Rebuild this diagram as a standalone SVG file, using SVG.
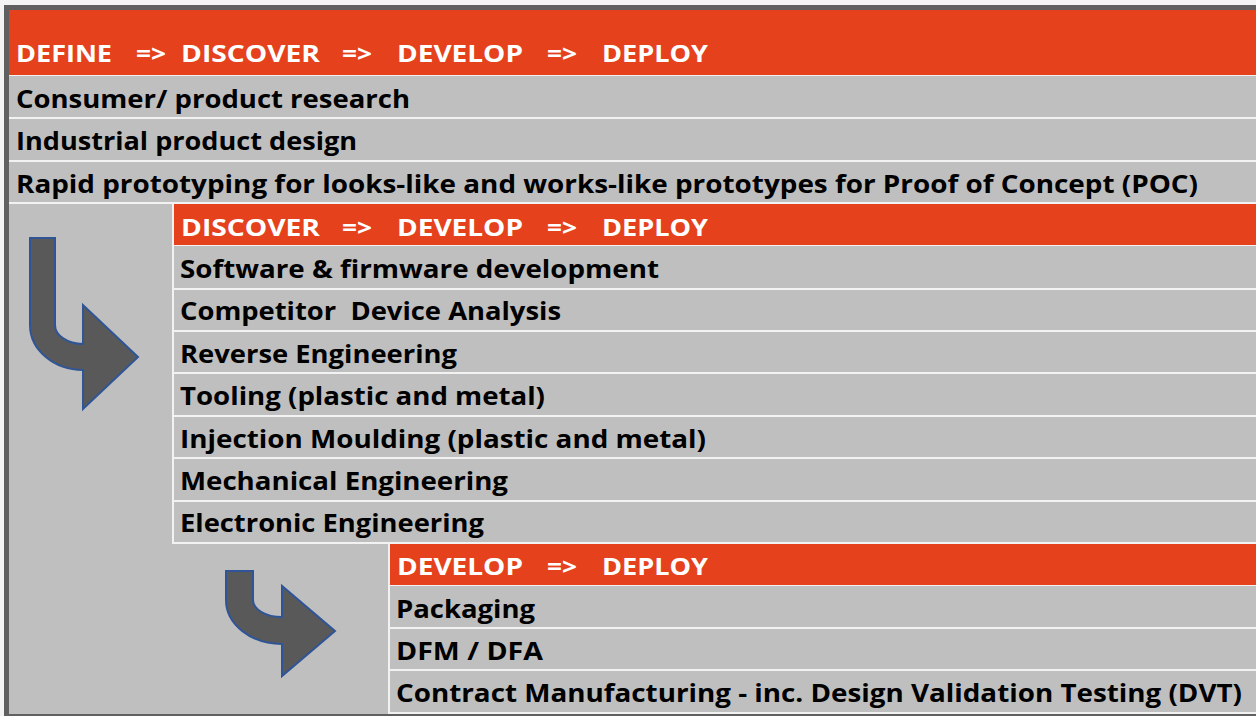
<svg xmlns="http://www.w3.org/2000/svg" width="1256" height="716" viewBox="0 0 1256 716">
<style>
.bg{fill:#BFBFBF}
.hdr{fill:#E5411D}
.grid{fill:#F2F2F2}
.frame{fill:#606060}
.ht{font-family:"Open Sans","Noto Sans","Liberation Sans",sans-serif;font-weight:700;font-size:24px;fill:#FFFFFF}
.rt{font-family:"Open Sans","Noto Sans","Liberation Sans",sans-serif;font-weight:700;font-size:25px;fill:#000000}
.arrow{fill:#595959;stroke:#2F5597;stroke-width:2;stroke-linejoin:miter}
</style>
<rect x="0" y="0" width="1256" height="716" fill="#F4F4F4"/>
<rect class="frame" x="4" y="5" width="1252" height="5"/>
<rect class="frame" x="4" y="5" width="5" height="711"/>
<rect class="bg" x="9" y="10" width="1247" height="704"/>
<rect class="frame" x="4" y="714" width="1252" height="2"/>

<g id="block1">
  <g id="header1">
    <rect class="hdr" x="9" y="10" width="1247" height="65"/>
    <text class="ht" y="62"><tspan x="16" textLength="96" lengthAdjust="spacingAndGlyphs">DEFINE</tspan><tspan x="136" textLength="30" lengthAdjust="spacingAndGlyphs">=&gt;</tspan><tspan x="181" textLength="139" lengthAdjust="spacingAndGlyphs">DISCOVER</tspan><tspan x="342" textLength="30" lengthAdjust="spacingAndGlyphs">=&gt;</tspan><tspan x="397" textLength="126" lengthAdjust="spacingAndGlyphs">DEVELOP</tspan><tspan x="547" textLength="30" lengthAdjust="spacingAndGlyphs">=&gt;</tspan><tspan x="602" textLength="106" lengthAdjust="spacingAndGlyphs">DEPLOY</tspan></text>
  </g>
  <rect class="grid" x="9" y="75" width="1247" height="1"/>
  <g id="row-consumer"><text class="rt" x="16" y="108" textLength="394" lengthAdjust="spacingAndGlyphs">Consumer/ product research</text></g>
  <rect class="grid" x="9" y="117" width="1247" height="2"/>
  <g id="row-industrial"><text class="rt" x="16" y="150" textLength="341" lengthAdjust="spacingAndGlyphs">Industrial product design</text></g>
  <rect class="grid" x="9" y="160" width="1247" height="2"/>
  <g id="row-rapid"><text class="rt" x="16" y="193" textLength="1182" lengthAdjust="spacingAndGlyphs">Rapid prototyping for looks-like and works-like prototypes for Proof of Concept (POC)</text></g>
  <rect class="grid" x="9" y="202" width="1247" height="2"/>
</g>

<g id="block2">
  <rect class="grid" x="172" y="204" width="2" height="340"/>
  <g id="header2">
    <rect class="hdr" x="174" y="204" width="1082" height="41"/>
    <text class="ht" y="236"><tspan x="181" textLength="139" lengthAdjust="spacingAndGlyphs">DISCOVER</tspan><tspan x="342" textLength="30" lengthAdjust="spacingAndGlyphs">=&gt;</tspan><tspan x="397" textLength="126" lengthAdjust="spacingAndGlyphs">DEVELOP</tspan><tspan x="547" textLength="30" lengthAdjust="spacingAndGlyphs">=&gt;</tspan><tspan x="602" textLength="106" lengthAdjust="spacingAndGlyphs">DEPLOY</tspan></text>
  </g>
  <rect class="grid" x="174" y="245" width="1082" height="1"/>
  <g id="row-software"><text class="rt" x="180" y="278" textLength="479" lengthAdjust="spacingAndGlyphs">Software &amp; firmware development</text></g>
  <rect class="grid" x="174" y="288" width="1082" height="2"/>
  <g id="row-competitor"><text class="rt" x="180" y="320" textLength="381" lengthAdjust="spacingAndGlyphs" xml:space="preserve">Competitor  Device Analysis</text></g>
  <rect class="grid" x="174" y="330" width="1082" height="2"/>
  <g id="row-reverse"><text class="rt" x="180" y="363" textLength="277" lengthAdjust="spacingAndGlyphs">Reverse Engineering</text></g>
  <rect class="grid" x="174" y="372" width="1082" height="2"/>
  <g id="row-tooling"><text class="rt" x="180" y="405" textLength="365" lengthAdjust="spacingAndGlyphs">Tooling (plastic and metal)</text></g>
  <rect class="grid" x="174" y="415" width="1082" height="2"/>
  <g id="row-injection"><text class="rt" x="180" y="448" textLength="526" lengthAdjust="spacingAndGlyphs">Injection Moulding (plastic and metal)</text></g>
  <rect class="grid" x="174" y="457" width="1082" height="2"/>
  <g id="row-mechanical"><text class="rt" x="180" y="490" textLength="328" lengthAdjust="spacingAndGlyphs">Mechanical Engineering</text></g>
  <rect class="grid" x="174" y="500" width="1082" height="2"/>
  <g id="row-electronic"><text class="rt" x="180" y="532" textLength="304" lengthAdjust="spacingAndGlyphs">Electronic Engineering</text></g>
  <rect class="grid" x="172" y="542" width="1084" height="2"/>
</g>

<g id="block3">
  <rect class="grid" x="388" y="544" width="2" height="170"/>
  <g id="header3">
    <rect class="hdr" x="390" y="544" width="866" height="41"/>
    <text class="ht" y="575"><tspan x="397" textLength="126" lengthAdjust="spacingAndGlyphs">DEVELOP</tspan><tspan x="547" textLength="30" lengthAdjust="spacingAndGlyphs">=&gt;</tspan><tspan x="602" textLength="106" lengthAdjust="spacingAndGlyphs">DEPLOY</tspan></text>
  </g>
  <rect class="grid" x="390" y="585" width="866" height="1"/>
  <g id="row-packaging"><text class="rt" x="396" y="618" textLength="139" lengthAdjust="spacingAndGlyphs">Packaging</text></g>
  <rect class="grid" x="390" y="627" width="866" height="2"/>
  <g id="row-dfm"><text class="rt" x="396" y="660" textLength="147" lengthAdjust="spacingAndGlyphs">DFM / DFA</text></g>
  <rect class="grid" x="390" y="669" width="866" height="2"/>
  <g id="row-contract"><text class="rt" x="396" y="702" textLength="846" lengthAdjust="spacingAndGlyphs">Contract Manufacturing - inc. Design Validation Testing (DVT)</text></g>
  <rect class="grid" x="390" y="712" width="866" height="2"/>
</g>

<g id="connectors">
  <path id="arrow1" class="arrow" d="M30,238 H55 V325 A28,19 0 0 0 83,344 V305 L138,357 L83,409 V370 A53,45 0 0 1 30,325 Z"/>
  <path id="arrow2" class="arrow" d="M226,571 H253 V600 A29,17 0 0 0 282,617 V586 L335,631 L282,676 V644 A56,44 0 0 1 226,600 Z"/>
</g>
</svg>
